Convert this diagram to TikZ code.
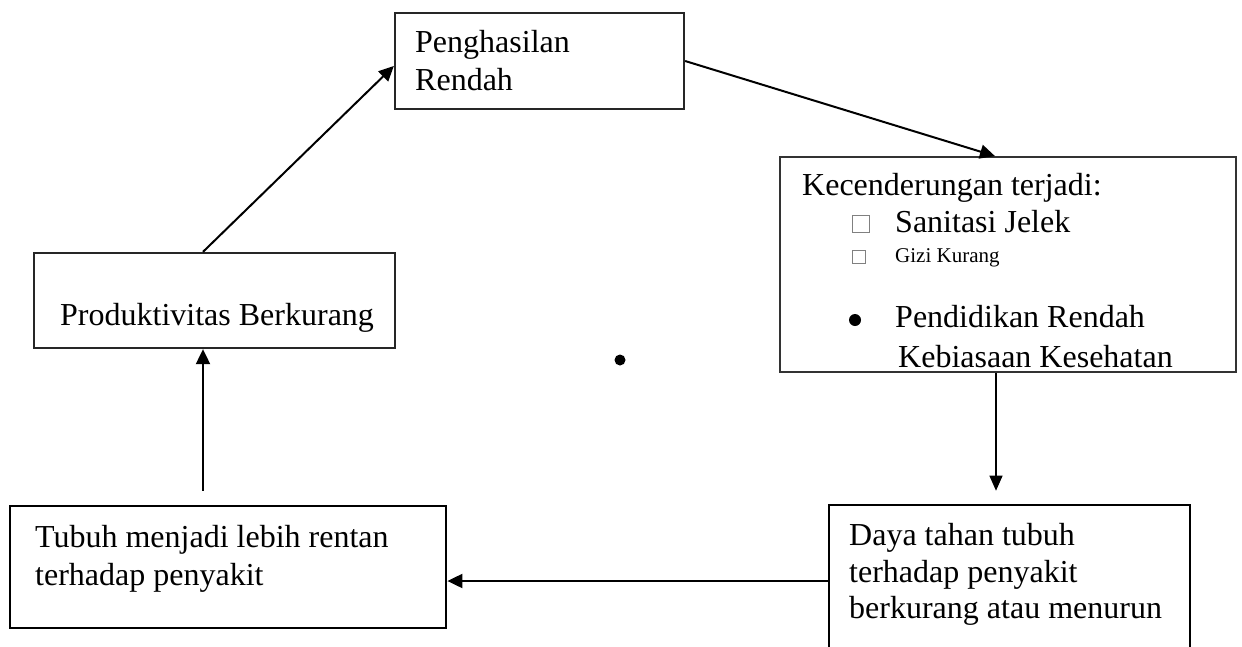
\documentclass[tikz,border=0pt]{standalone}
\usepackage{fontspec}
\setmainfont{Liberation Serif}
\usetikzlibrary{arrows.meta}
\begin{document}
\begin{tikzpicture}[x=1pt,y=-1pt,
  box/.style={draw, line width=2.3pt, inner sep=0pt},
  label/.style={anchor=base west, inner sep=0pt, font=\fontsize{32pt}{38pt}\selectfont},
  small/.style={anchor=base west, inner sep=0pt, font=\fontsize{21pt}{25pt}\selectfont},
  flow/.style={line width=2pt, -{Triangle[length=15pt,width=14pt]}},
  thinflow/.style={line width=1.2pt, -{Triangle[length=15pt,width=13pt]}},
  tick/.style={draw=gray, line width=0.8pt, inner sep=0pt}]
\useasboundingbox (0,0) rectangle (1242,646);

% boxes
\node[box, draw=black!85, minimum width=289pt, minimum height=96pt] (peng) at (539.5,61) {};
\node[box, draw=black!80, line width=1.8pt, minimum width=456pt, minimum height=215pt] (kec) at (1008,264.5) {};
\node[box, draw=black!85, minimum width=361pt, minimum height=95pt] (prod) at (214.5,300.5) {};
\node[box, line width=2.8pt, minimum width=436pt, minimum height=122pt] (tubuh) at (228,567) {};
\node[box, line width=2.6pt, minimum width=361pt, minimum height=160pt] (daya) at (1009.5,585) {};

% texts
\node[label] (t1) at (415,52) {Penghasilan};
\node[label] (t2) at (415,90) {Rendah};
\node[label] (t3) at (802,195) {Kecenderungan terjadi:};
\node[label] (t4) at (895,232) {Sanitasi Jelek};
\node[small] (t5) at (895,262) {Gizi Kurang};
\node[label] (t6) at (895,327) {Pendidikan Rendah};
\node[label] (t7) at (898,367) {Kebiasaan Kesehatan};
\node[label] (t8) at (60,325) {Produktivitas Berkurang};
\node[label] (t9) at (35,547) {Tubuh menjadi lebih rentan};
\node[label] (t10) at (35,585) {terhadap penyakit};
\node[label] (t11) at (849,545) {Daya tahan tubuh};
\node[label] (t12) at (849,582) {terhadap penyakit};
\node[label] (t13) at (849,618) {berkurang atau menurun};

% list markers
\node[tick, minimum size=17pt] (sq1) at (861,223.5) {};
\node[tick, minimum size=13pt] (sq2) at (858.5,257) {};
\node[circle, fill, inner sep=0pt, minimum size=12pt] (b1) at (855,320) {};
\node[circle, fill, inner sep=0pt, minimum size=11pt] (dot) at (620,360) {};

% connectors
\draw[flow] ([xshift=-11.5pt]prod.north) -- ([yshift=-5pt]peng.west);
\draw[flow] (peng.east) -- ([xshift=-13pt]kec.north);
\draw[thinflow, shorten >=13pt] ([xshift=-12pt]kec.south) -- ([xshift=-13.5pt]daya.north);
\draw[flow] ([yshift=4pt]daya.west) -- ([yshift=4pt]daya.west -| tubuh.east);
\draw[flow, shorten <=14pt] ([xshift=-11.5pt]prod.south |- tubuh.north) -- ([xshift=-11.5pt]prod.south);
\end{tikzpicture}
\end{document}
